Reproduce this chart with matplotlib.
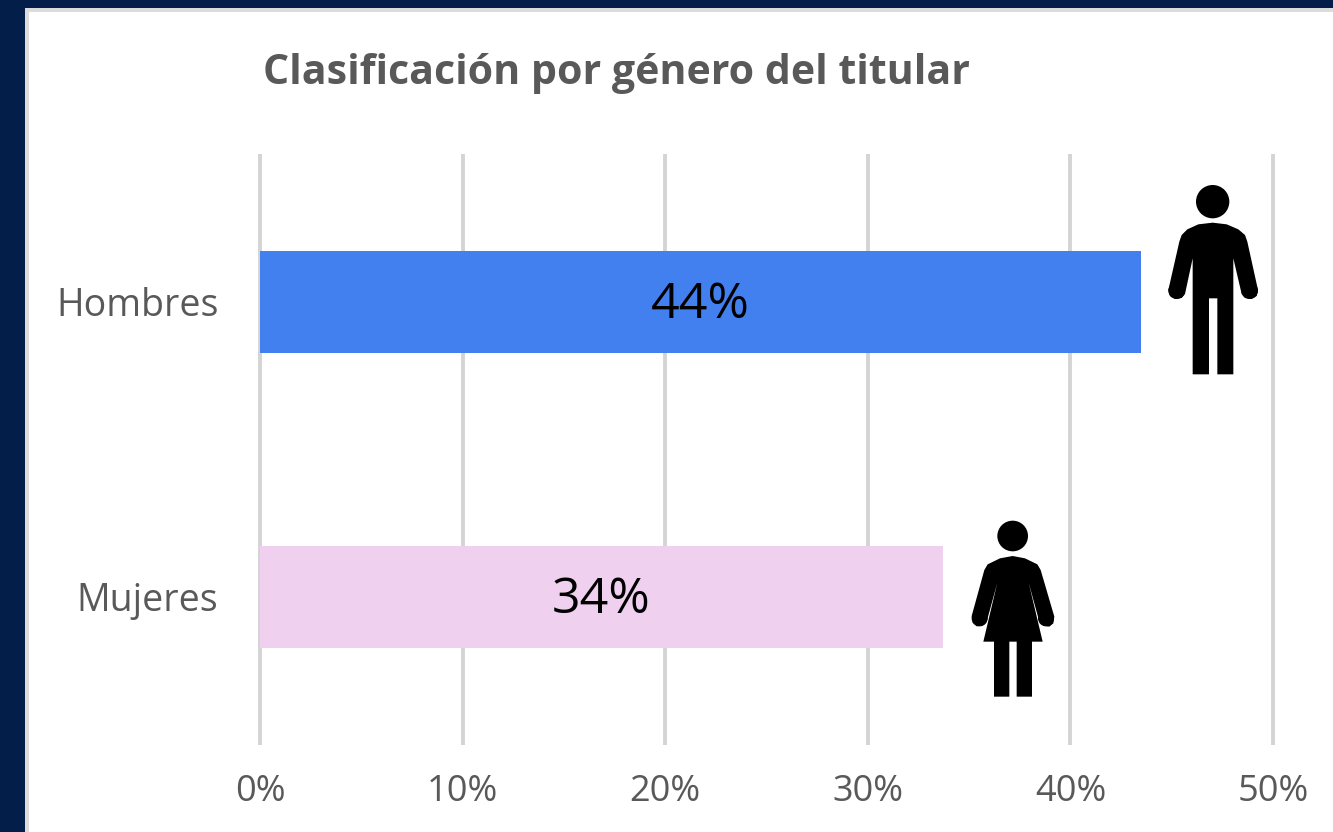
import matplotlib
matplotlib.use('Agg')
import matplotlib.pyplot as plt
from matplotlib.patches import Circle, Polygon, Rectangle

W, H = 1333, 832

categories = ['Hombres', 'Mujeres']
values = [43.5, 33.7]
value_labels = ['44%', '34%']
bar_colors = ['#4280EF', '#F0D0EF']
ticks = [0, 10, 20, 30, 40, 50]
tick_labels = ['0%', '10%', '20%', '30%', '40%', '50%']
title = 'Clasificación por género del titular'

plt.rcParams['font.family'] = ['Open Sans', 'DejaVu Sans']
gray = '#595959'

fig = plt.figure(figsize=(W / 100, H / 100), dpi=100, facecolor='#031E49')


# turns pixel positions of the reference into figure fractions
def frame(x0, y0, x1, y1):
    return [x0 / W, 1 - y1 / H, (x1 - x0) / W, (y1 - y0) / H]


# white card behind the chart, plus the icons, both in pixel coordinates
bg = fig.add_axes([0, 0, 1, 1], zorder=0)
bg.set_xlim(0, W)
bg.set_ylim(H, 0)
bg.axis('off')
bg.add_patch(Rectangle((25, 8), W, H, facecolor='#DCDCDC', edgecolor='none'))
bg.add_patch(Rectangle((29, 12), W, H, facecolor='white', edgecolor='none'))

ax = fig.add_axes(frame(260, 154.5, 1273, 744.5), zorder=1)
ax.patch.set_alpha(0)
ax.set_xlim(0, 50)
ax.set_ylim(1.5, -0.5)
ax.barh(categories, values, height=0.346, color=bar_colors, zorder=3)
ax.set_xticks(ticks)
ax.set_xticklabels(tick_labels, fontsize=26, color=gray)
ax.set_yticks(range(len(categories)))
ax.set_yticklabels(categories, fontsize=27, color=gray)
ax.tick_params(axis='x', length=0, pad=21)
ax.tick_params(axis='y', length=0, pad=30)
for t in ticks:
    ax.axvline(t, color='#D4D4D4', linewidth=2.8, zorder=0, clip_on=False, solid_capstyle='butt')
for s in ax.spines.values():
    s.set_visible(False)

for i, v in enumerate(values):
    ax.annotate(value_labels[i], (v / 2, i), xytext=(0, -2), textcoords='offset points',
                ha='center', va='center', fontsize=36, color='black', zorder=4)

fig.text(263 / W, 1 - 73 / H, title, fontsize=29.6, fontweight='bold', color=gray, ha='left', va='center')

ic = fig.add_axes([0, 0, 1, 1], zorder=2)
ic.set_xlim(0, W)
ic.set_ylim(H, 0)
ic.axis('off')

# icon outlines, taken from 3x crops
man = [(188, 613), (237, 613), (237, 385), (262, 385), (262, 613), (310, 613), (310, 265),
       (335, 372), (345, 384), (365, 387), (380, 378), (384, 360), (352, 215), (345, 195), (325, 178),
       (290, 163), (248, 158), (205, 163), (172, 178), (155, 195), (148, 215), (115, 360), (120, 378),
       (135, 387), (155, 384), (165, 372), (188, 265)]
woman = [(100, 395), (132, 395), (132, 560), (178, 560), (178, 395), (200, 395), (200, 560),
         (246, 560), (246, 395), (278, 395), (236, 218), (268, 335), (280, 347), (298, 350),
         (310, 340), (313, 320), (272, 180), (262, 163), (225, 145), (188, 138), (150, 145), (113, 163),
         (103, 180), (65, 318), (68, 338), (80, 349), (98, 347), (110, 335), (142, 218)]


def icon(points, head, r, hands, hand_r, ox, oy):
    pts = [(ox + x / 3, oy + y / 3) for x, y in points]
    ic.add_patch(Polygon(pts, closed=True, facecolor='black', edgecolor='none'))
    ic.add_patch(Circle((ox + head[0] / 3, oy + head[1] / 3), r / 3, facecolor='black', edgecolor='none'))
    for hx, hy in hands:
        ic.add_patch(Circle((ox + hx / 3, oy + hy / 3), hand_r / 3, facecolor='black', edgecolor='none'))


icon(man, (248, 95), 50, [(140, 362), (359, 362)], 25, 1130, 170)
icon(woman, (188, 78), 46, [(89, 325), (288, 325)], 24, 950, 510)

fig.savefig('out.png', dpi=100, facecolor=fig.get_facecolor())
